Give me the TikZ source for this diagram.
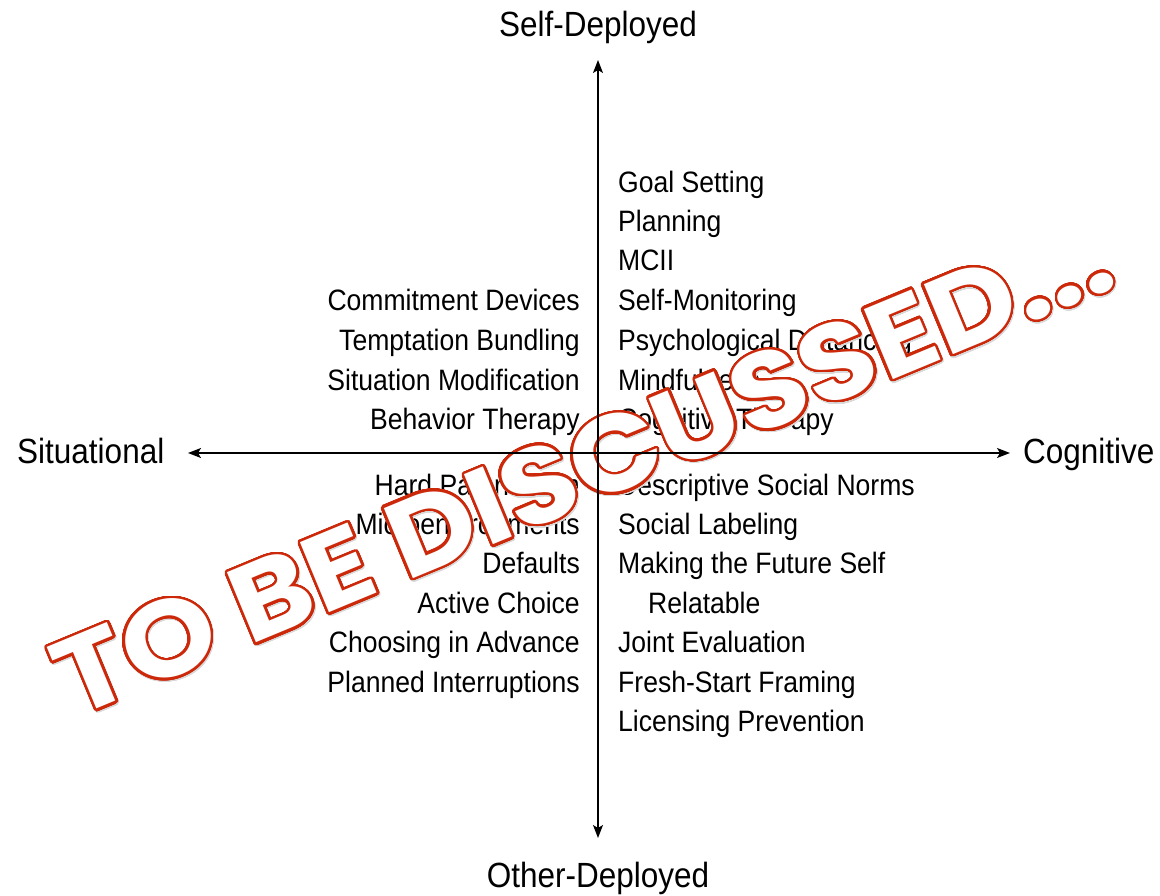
\documentclass[tikz,border=0pt]{standalone}
\usepackage{fontspec}
\setmainfont{Liberation Sans}[FakeStretch=0.9]
\newfontfamily\stampfont{Poppins}[FakeStretch=1.11]
\usepackage{contour}
\usetikzlibrary{arrows.meta}
\definecolor{stampred}{RGB}{204,40,10}
\contourlength{2.4pt}
\contournumber{64}

\begin{document}
\begin{tikzpicture}[x=1pt,y=1pt,yscale=-1,xscale=1,
    item/.style={inner sep=0pt, font=\fontsize{29.5}{30}\selectfont},
    pole/.style={inner sep=0pt, font=\fontsize{35}{36}\selectfont},
    stamp/.style={anchor=base, rotate=22.5, inner sep=0pt,
        font=\stampfont\bfseries\fontsize{108}{108}\selectfont},
    axis/.style={line width=1.3pt, {Stealth[length=13pt,width=10pt,inset=3pt]}-{Stealth[length=13pt,width=10pt,inset=3pt]}}]
    \useasboundingbox (0,0) rectangle (1160,896);

    % Text Node (self-deployed, situational)
    \node (cd) at (580,311) [item, anchor=base east] {Commitment Devices};
    \node (tb) at (580,350) [item, anchor=base east] {Temptation Bundling};
    \node (sm) at (580,390) [item, anchor=base east] {Situation Modification};
    \node (bt) at (580,429) [item, anchor=base east] {Behavior Therapy};
    % Text Node (self-deployed, cognitive)
    \node (gs) at (618,193) [item, anchor=base west] {Goal Setting};
    \node (pl) at (618,232) [item, anchor=base west] {Planning};
    \node (mc) at (618,271) [item, anchor=base west] {MCII};
    \node (smo) at (618,311) [item, anchor=base west] {Self-Monitoring};
    \node (pd) at (618,350) [item, anchor=base west] {Psychological Distancing};
    \node (mf) at (618,390) [item, anchor=base west] {Mindfulness};
    \node (ct) at (618,429) [item, anchor=base west] {Cognitive Therapy};
    % Text Node (other-deployed, situational)
    \node (hp) at (580,495) [item, anchor=base east] {Hard Paternalism};
    \node (me) at (580,534) [item, anchor=base east] {Microenvironments};
    \node (df) at (580,573) [item, anchor=base east] {Defaults};
    \node (ac) at (580,613) [item, anchor=base east] {Active Choice};
    \node (cia) at (580,652) [item, anchor=base east] {Choosing in Advance};
    \node (pi) at (580,692) [item, anchor=base east] {Planned Interruptions};
    % Text Node (other-deployed, cognitive)
    \node (dsn) at (618,495) [item, anchor=base west] {Descriptive Social Norms};
    \node (sl) at (618,534) [item, anchor=base west] {Social Labeling};
    \node (mfs) at (618,573) [item, anchor=base west] {Making the Future Self};
    \node (rel) at (648,613) [item, anchor=base west] {Relatable};
    \node (je) at (618,652) [item, anchor=base west] {Joint Evaluation};
    \node (fsf) at (618,692) [item, anchor=base west] {Fresh-Start Framing};
    \node (lp) at (618,731) [item, anchor=base west] {Licensing Prevention};

    % Stamp, with a faint shadow under it
    \node (shadow) at (598,503.5) [stamp]
        {\contour{black!15}{\textcolor{black!15}{TO BE DISCUSSED...}}};
    \node (stamp) at (597,502) [stamp]
        {\contour{stampred}{\textcolor{white}{TO BE DISCUSSED...}}};

    % Axis Ends
    \coordinate (top) at (598,60);
    \coordinate (bottom) at (598,838);
    \coordinate (left) at (188,453);
    \coordinate (right) at (1010,453);
    % Connection
    \draw [axis] (bottom) -- (top);
    % Connection
    \draw [axis] (left) -- (right);

    % Text Node (poles)
    \node (self) at (598,37) [pole, anchor=base] {Self-Deployed};
    \node (other) at (598,887) [pole, anchor=base] {Other-Deployed};
    \node (sit) at (17,463) [pole, anchor=base west] {Situational};
    \node (cog) at (1023,463) [pole, anchor=base west] {Cognitive};

\end{tikzpicture}
\end{document}
